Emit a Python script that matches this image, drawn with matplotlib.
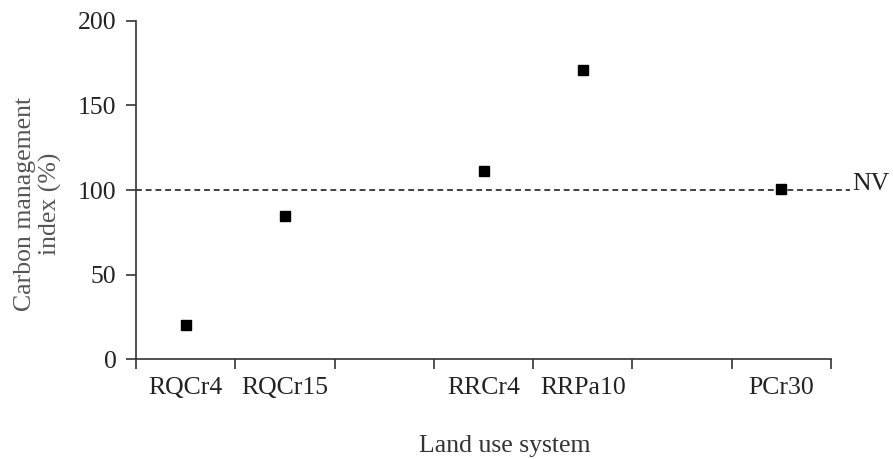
#!/usr/bin/env python3
import numpy as np
import matplotlib.pyplot as plt

# Land use systems (blank slots keep the spacing of the category axis)
categorias = ["RQCr4", "RQCr15", "", "RRCr4", "RRPa10", "", "PCr30"]
imc = [20.3, 84.5, np.nan, 111.0, 171.0, np.nan, 100.6]
referencia_nv = 100

plt.rcParams["font.family"] = ["Liberation Serif", "DejaVu Serif"]
color_eje = "#333333"
tam = 18.5

fig = plt.figure(figsize=(8.93, 4.59), dpi=100)
ax = fig.add_axes([0.1523, 0.2172, 0.9306 - 0.1523, 0.9549 - 0.2172])

x = np.arange(len(categorias))
ax.plot(x, imc, linestyle="none", marker="s", markersize=6.8, color="black",
        zorder=3)

# Native vegetation reference line
ax.axhline(referencia_nv, xmin=0, xmax=1.027, color="#404040", linestyle=(0, (3, 2)),
           linewidth=1.4, clip_on=False, zorder=2)
ax.text(1.031, referencia_nv, "NV", transform=ax.get_yaxis_transform(),
        fontsize=tam, va="baseline", ha="left", color="#222222")

ax.set_xlim(-0.5, len(categorias) - 0.5)
ax.set_ylim(0, 200)
ax.set_yticks([0, 50, 100, 150, 200])

# Ticks on the category boundaries, labels in the middle of each slot
ax.set_xticks(np.arange(-0.5, len(categorias), 1.0))
ax.set_xticklabels([])
ax.set_xticks(x, minor=True)
ax.set_xticklabels(categorias, minor=True)
ax.tick_params(axis="x", which="major", direction="out", length=7, width=1.2,
               color=color_eje)
ax.tick_params(axis="x", which="minor", length=0, pad=13, labelsize=tam,
               labelcolor="#222222")
ax.tick_params(axis="y", direction="out", length=7, width=1.2, color=color_eje,
               pad=7, labelsize=tam, labelcolor="#222222")

for lado in ["top", "right"]:
    ax.spines[lado].set_visible(False)
for lado in ["left", "bottom"]:
    ax.spines[lado].set_color(color_eje)
    ax.spines[lado].set_linewidth(1.2)

fig.text(38 / 893, 1 - 204 / 459, "Carbon management\nindex (%)", rotation=90,
         ha="center", va="center", fontsize=tam, color="#555555", linespacing=1.15)
fig.text(505 / 893, 1 - 446 / 459, "Land use system", ha="center", va="center",
         fontsize=tam, color="#333333")

fig.savefig("out.png", dpi=100)
